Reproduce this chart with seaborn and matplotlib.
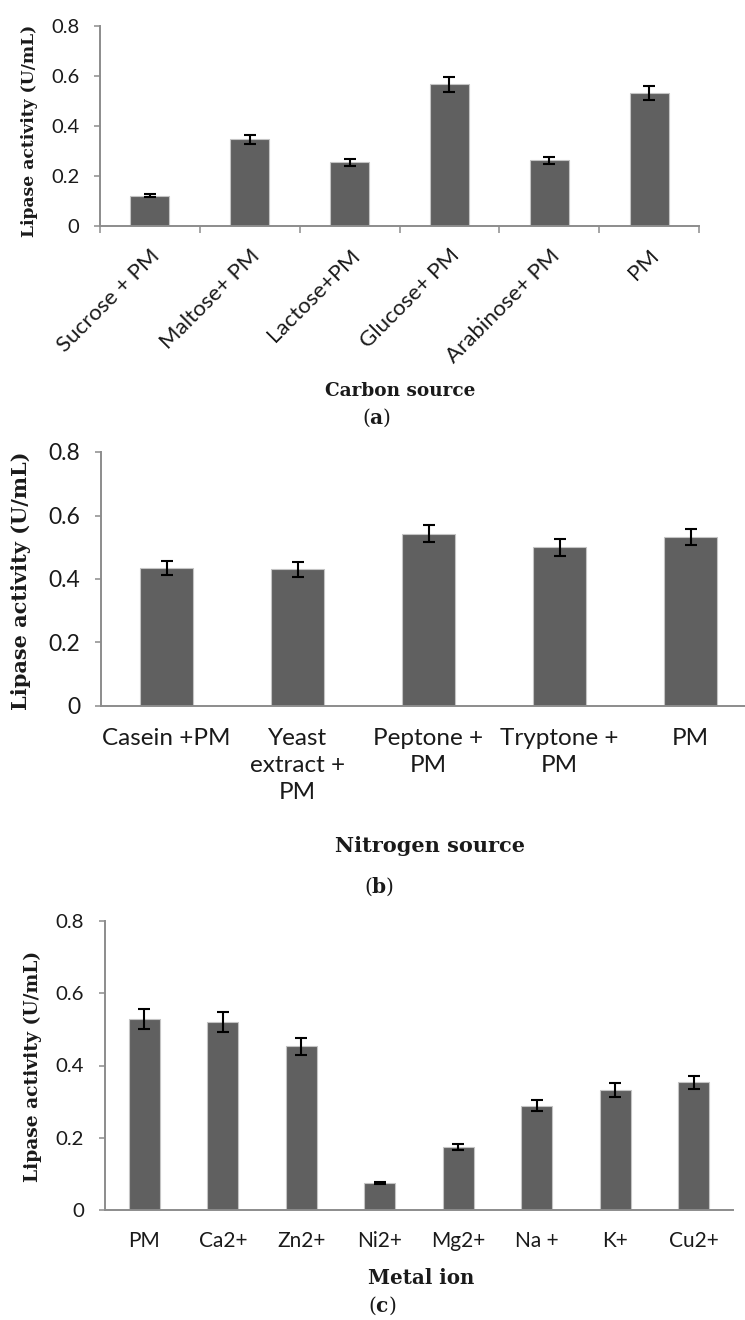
import pandas as pd
import seaborn as sns
import matplotlib.pyplot as plt

# values (lipase activity, U/mL)
carbon_sources = ['Sucrose + PM', 'Maltose+ PM', 'Lactose+PM', 'Glucose+ PM', 'Arabinose+ PM', 'PM']
carbon_activity = [0.122, 0.347, 0.255, 0.567, 0.263, 0.533]
carbon_err = [0.007, 0.018, 0.014, 0.031, 0.014, 0.028]

nitrogen_sources = ['Casein +PM', 'Yeast\nextract +\nPM', 'Peptone +\nPM', 'Tryptone +\nPM', 'PM']
nitrogen_activity = [0.435, 0.430, 0.543, 0.500, 0.532]
nitrogen_err = [0.023, 0.023, 0.028, 0.026, 0.026]

metal_ions = ['PM', 'Ca2+', 'Zn2+', 'Ni2+', 'Mg2+', 'Na +', 'K+', 'Cu2+']
metal_activity = [0.529, 0.521, 0.453, 0.075, 0.175, 0.289, 0.332, 0.353]
metal_err = [0.027, 0.027, 0.023, 0.003, 0.008, 0.016, 0.019, 0.017]

yticks = [0, 0.2, 0.4, 0.6, 0.8]
ytick_labels = ['0', '0.2', '0.4', '0.6', '0.8']

sns.set_theme(style='white')
plt.rcParams['font.family'] = ['Lato', 'DejaVu Sans']
plt.rcParams['mathtext.fontset'] = 'dejavuserif'

W, H = 745, 1320
fig = plt.figure(figsize=(W / 100, H / 100), dpi=100)

BAR = '#606060'
AXC = '#8c8c8c'
SERIF = 'DejaVu Serif'


def px_box(l, t, r, b):
    return [l / W, 1 - b / H, (r - l) / W, (b - t) / H]


def panel(box, names, vals, errs, bar_w, xlab, ylab_xy, xlab_xy,
          ytick_fs, xtick_fs, ylab_fs, xlab_fs):
    ax = fig.add_axes(px_box(*box))
    df = pd.DataFrame({'group': names, 'activity': vals})
    sns.barplot(data=df, x='group', y='activity', ax=ax, color=BAR, saturation=1,
                width=bar_w, edgecolor='#c4c4c4', linewidth=0.8)
    ax.errorbar(range(len(vals)), vals, yerr=errs, fmt='none', ecolor='black',
                elinewidth=1.5, capsize=4.3, capthick=1.5, zorder=5)
    ax.set_xlim(-0.5, len(vals) - 0.5)
    ax.set_ylim(0, 0.8)
    ax.set_yticks(yticks)
    ax.set_yticklabels(ytick_labels, fontsize=ytick_fs, color='#1a1a1a')
    ax.tick_params(axis='y', left=True, length=4, width=1.1, color=AXC, pad=11)
    ax.tick_params(axis='x', labelsize=xtick_fs, labelcolor='#1a1a1a')
    for side in ['top', 'right']:
        ax.spines[side].set_visible(False)
    for side in ['left', 'bottom']:
        ax.spines[side].set_color(AXC)
        ax.spines[side].set_linewidth(1.4)

    ax.set_ylabel('Lipase activity (U/mL)', family=SERIF, fontweight='bold',
                  fontsize=ylab_fs, color='#1a1a1a')
    ax.yaxis.set_label_coords(ylab_xy[0] / W, 1 - ylab_xy[1] / H, transform=fig.transFigure)
    ax.yaxis.label.set_va('center')
    ax.set_xlabel(xlab, family=SERIF, fontweight='bold', fontsize=xlab_fs, color='#1a1a1a')
    ax.xaxis.set_label_coords(xlab_xy[0] / W, 1 - xlab_xy[1] / H, transform=fig.transFigure)
    ax.xaxis.label.set_va('center')
    return ax


# (a) carbon source
ax_a = panel((100, 26, 699, 226), carbon_sources, carbon_activity, carbon_err, 0.39,
             'Carbon source', (30, 131), (400, 391), 14.5, 16, 12.3, 13.3)
ax_a.set_xticks(range(len(carbon_sources)))
ax_a.set_xticklabels(carbon_sources, rotation=45, ha='right', rotation_mode='anchor')
ax_a.set_xticks([i - 0.5 for i in range(len(carbon_sources) + 1)], minor=True)
ax_a.tick_params(axis='x', which='major', length=0, pad=14)
ax_a.tick_params(axis='x', which='minor', bottom=True, length=5, width=1.1, color=AXC)

# (b) nitrogen source
ax_b = panel((101, 452, 756, 706), nitrogen_sources, nitrogen_activity, nitrogen_err, 0.4,
             'Nitrogen source', (21, 581), (430, 846), 16.5, 17.5, 15, 15)
ax_b.tick_params(axis='x', length=0, pad=16)
for lab in ax_b.get_xticklabels():
    lab.set_linespacing(1.35)
    lab.set_va('top')

# (c) metal ion
ax_c = panel((105, 921, 733, 1210), metal_ions, metal_activity, metal_err, 0.39,
             'Metal ion', (33, 1066), (421, 1278), 14.7, 15, 13.5, 14.3)
ax_c.tick_params(axis='x', length=0, pad=15)

# panel captions
for tag, x, y in [('a', 377, 418), ('b', 379, 887), ('c', 382, 1306)]:
    fig.text(x / W, 1 - y / H, '(' + r'$\mathbf{' + tag + '}$' + ')', family=SERIF,
             fontsize=14.5, ha='center', va='center', color='#1a1a1a')

fig.savefig('out.png', dpi=100, facecolor='white')
